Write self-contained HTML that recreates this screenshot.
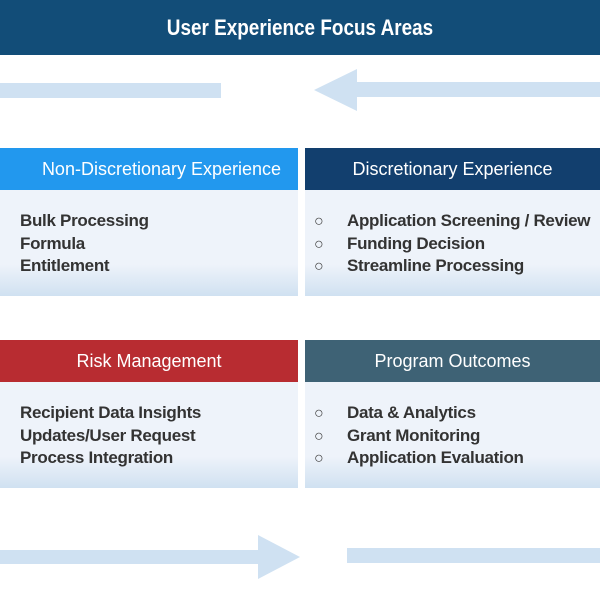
<!DOCTYPE html>
<html><head><style>
*{margin:0;padding:0;box-sizing:border-box}
body{width:600px;height:600px;background:#fff;position:relative;overflow:hidden;font-family:"Liberation Sans",sans-serif}
.a{position:absolute}
.hd{position:absolute;color:#fff;font-size:18px;text-align:center;line-height:42px;height:42px}
.bd{position:absolute;height:106px;background:linear-gradient(#eef3fa 0%,#eef3fa 70%,#d0e1f1 100%)}
.t{position:absolute;font-size:17px;font-weight:bold;color:#333;line-height:22.5px;letter-spacing:-0.3px;white-space:nowrap}
.b{position:absolute;font-size:16px;color:#444;line-height:22.5px}
</style></head><body>
<div class="a" style="left:0;top:0;width:600px;height:55px;background:#124d78"></div>
<div class="a" style="left:0;top:0;width:600px;height:55px;color:#fff;font-weight:bold;font-size:22px;text-align:center;line-height:55px;transform:scaleX(0.86)">User Experience Focus Areas</div>
<svg class="a" style="left:0;top:0" width="600" height="600">
<g fill="#cfe1f2">
<rect x="0" y="83" width="221" height="15"/>
<rect x="355" y="82" width="245" height="15"/>
<polygon points="314,90 357,69 357,111"/>
<rect x="0" y="550" width="260" height="14"/>
<polygon points="258,535 300,557 258,579"/>
<rect x="347" y="548" width="253" height="15"/>
</g></svg>
<div class="hd" style="left:0;top:148px;width:298px;background:#2298ee;padding-left:25px">Non-Discretionary Experience</div>
<div class="hd" style="left:305px;top:148px;width:295px;background:#123f6e">Discretionary Experience</div>
<div class="bd" style="left:0;top:190px;width:298px"></div>
<div class="bd" style="left:305px;top:190px;width:295px"></div>
<div class="t" style="left:20px;top:210px">Bulk Processing<br>Formula<br>Entitlement</div>
<div class="b" style="left:314px;top:211px">○<br>○<br>○</div>
<div class="t" style="left:347px;top:210px">Application Screening / Review<br>Funding Decision<br>Streamline Processing</div>
<div class="hd" style="left:0;top:340px;width:298px;background:#b82c31">Risk Management</div>
<div class="hd" style="left:305px;top:340px;width:295px;background:#3e6275">Program Outcomes</div>
<div class="bd" style="left:0;top:382px;width:298px"></div>
<div class="bd" style="left:305px;top:382px;width:295px"></div>
<div class="t" style="left:20px;top:402px">Recipient Data Insights<br>Updates/User Request<br>Process Integration</div>
<div class="b" style="left:314px;top:403px">○<br>○<br>○</div>
<div class="t" style="left:347px;top:402px">Data &amp; Analytics<br>Grant Monitoring<br>Application Evaluation</div>
</body></html>
